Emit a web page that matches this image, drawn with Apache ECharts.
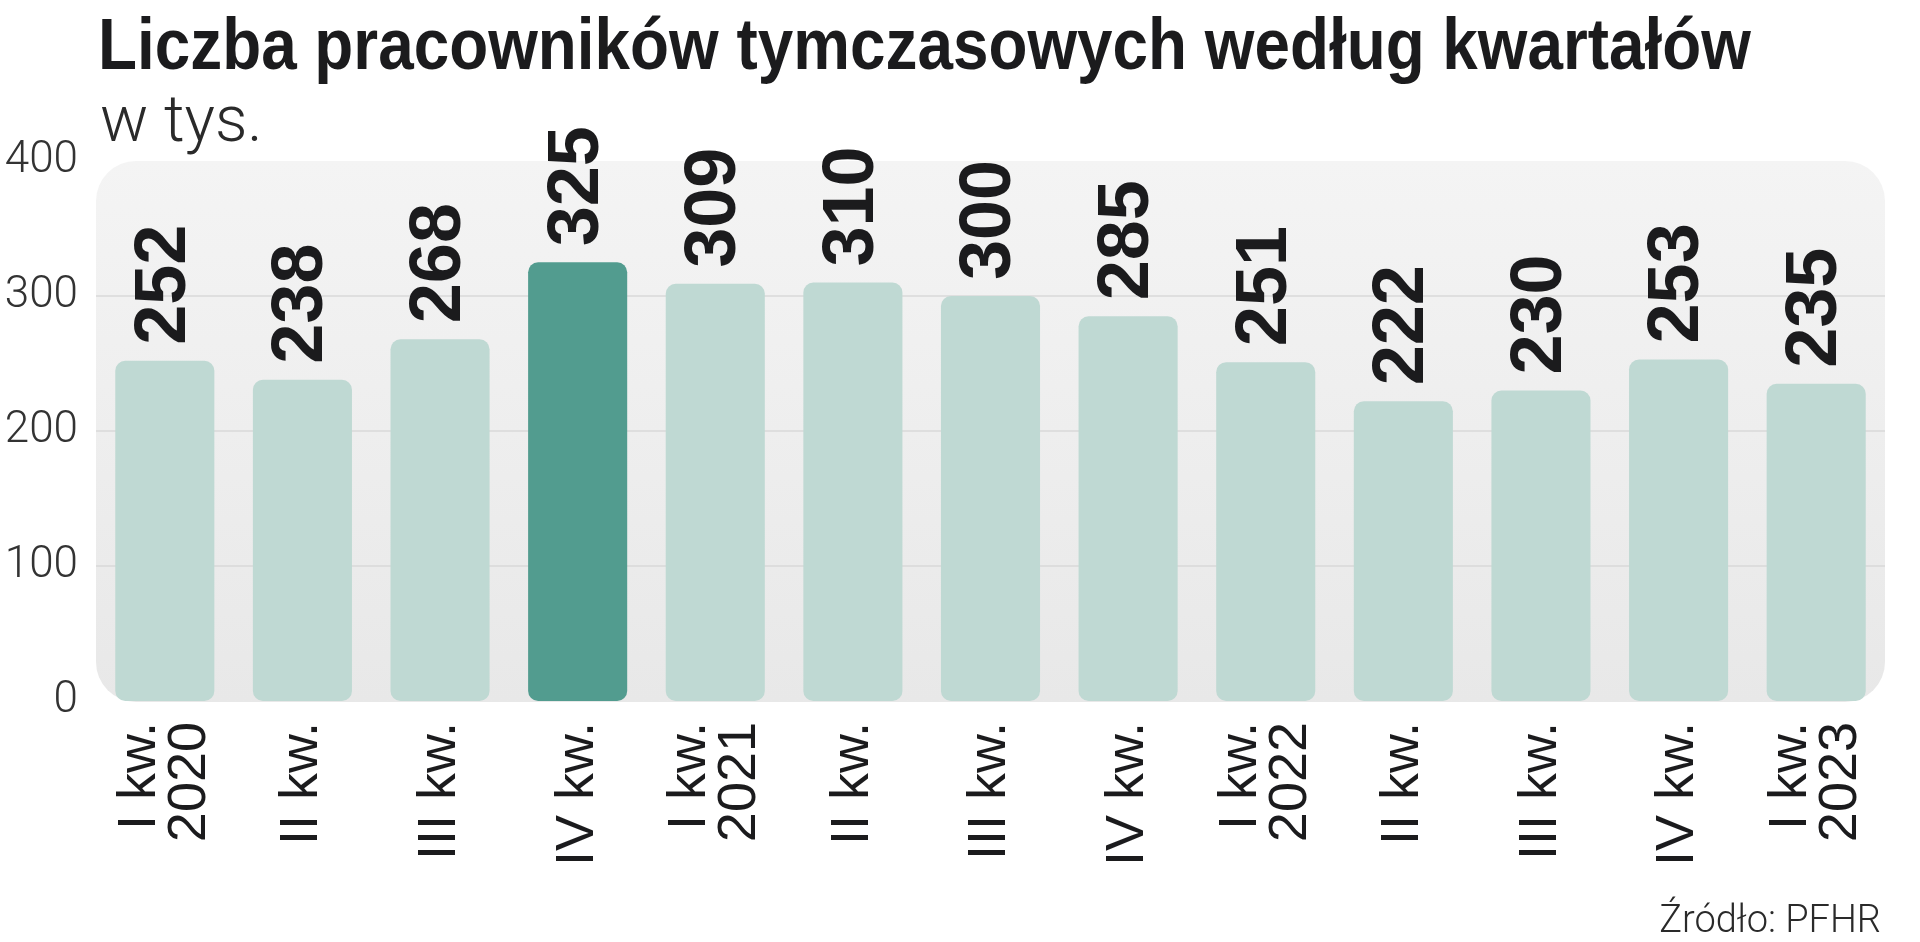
<!DOCTYPE html>
<html>
<head>
<meta charset="utf-8">
<title>Liczba pracowników tymczasowych według kwartałów</title>
<script src="https://cdn.jsdelivr.net/npm/echarts@6/dist/echarts.min.js"></script>
<style>
  html, body { margin: 0; padding: 0; background: #ffffff; }
  #chart { width: 1920px; height: 942px; }
</style>
</head>
<body>
<div id="chart"></div>
<script>
// dane: liczba pracowników tymczasowych (tys.)
const quarters = [
  'I kw.\n2020', 'II kw.', 'III kw.', 'IV kw.',
  'I kw.\n2021', 'II kw.', 'III kw.', 'IV kw.',
  'I kw.\n2022', 'II kw.', 'III kw.', 'IV kw.',
  'I kw.\n2023'
];
const workers = [252, 238, 268, 325, 309, 310, 300, 285, 251, 222, 230, 253, 235];
const highlightIndex = 3;
const yTicks = [0, 100, 200, 300, 400];

const TITLE = 'Liczba pracowników tymczasowych według kwartałów';
const GRID = { left: 96, right: 35, top: 161, bottom: 241 };
const W = 1920, H = 942;

const sans = '"Liberation Sans", Arial, sans-serif';
const light = 'Roboto, "Open Sans", sans-serif';

// tytuł jest w oryginale pismem zwężonym - ściskamy go do szerokości z rysunku
const titleFont = 'bold 73px "Liberation Sans"';
const measureCtx = document.createElement('canvas').getContext('2d');
measureCtx.font = titleFont;
const titleScale = 1653 / measureCtx.measureText(TITLE).width;

const chart = echarts.init(document.getElementById('chart'), null, { renderer: 'canvas' });

chart.setOption({
  backgroundColor: '#ffffff',
  animation: false,
  title: [
    {
      text: 'w tys.',
      left: 95,
      top: 88,
      textStyle: { fontFamily: light, fontWeight: 300, fontSize: 64, color: '#2a2a2a' }
    },
    {
      text: 'Źródło: PFHR',
      right: 34,
      bottom: -4,
      textStyle: { fontFamily: light, fontWeight: 300, fontSize: 38, color: '#2a2a2a' }
    }
  ],
  graphic: [
    {
      type: 'rect',
      z: -10,
      silent: true,
      shape: {
        x: GRID.left,
        y: GRID.top,
        width: W - GRID.left - GRID.right,
        height: H - GRID.top - GRID.bottom + 1,
        r: 40
      },
      style: {
        fill: new echarts.graphic.LinearGradient(0, 0, 0, 1, [
          { offset: 0, color: '#f4f4f4' },
          { offset: 1, color: '#e8e8e8' }
        ])
      }
    },
    {
      type: 'text',
      x: 98,
      y: 12,
      scaleX: titleScale,
      silent: true,
      style: {
        text: TITLE,
        font: titleFont,
        fill: '#1b1b1d',
        verticalAlign: 'top'
      }
    }
  ],
  grid: { left: GRID.left, right: GRID.right, top: GRID.top, bottom: GRID.bottom },
  xAxis: {
    type: 'category',
    data: quarters,
    axisLine: { show: false },
    axisTick: { show: false },
    axisLabel: {
      interval: 0,
      rotate: 90,
      margin: 21,
      fontFamily: sans,
      fontSize: 54,
      lineHeight: 50,
      color: '#1b1b1d'
    }
  },
  yAxis: {
    type: 'value',
    min: yTicks[0],
    max: yTicks[yTicks.length - 1],
    interval: 100,
    axisLine: { show: false },
    axisTick: { show: false },
    axisLabel: {
      margin: 18,
      fontFamily: light,
      fontWeight: 300,
      fontSize: 44,
      color: '#333333'
    },
    splitLine: {
      show: true,
      lineStyle: { color: '#d9d9d9', width: 1.5 },
      showMinLine: false,
      showMaxLine: false
    }
  },
  series: [
    {
      type: 'bar',
      barWidth: '72%',
      data: workers.map((v, i) => ({
        value: v,
        itemStyle: { color: i === highlightIndex ? '#529c8f' : '#bfd9d3' }
      })),
      itemStyle: { borderRadius: 10 },
      label: {
        show: true,
        position: 'top',
        rotate: 90,
        align: 'left',
        verticalAlign: 'middle',
        distance: 16,
        fontFamily: sans,
        fontWeight: 'bold',
        fontSize: 72,
        color: '#1b1b1d'
      }
    }
  ]
});
</script>
</body>
</html>
